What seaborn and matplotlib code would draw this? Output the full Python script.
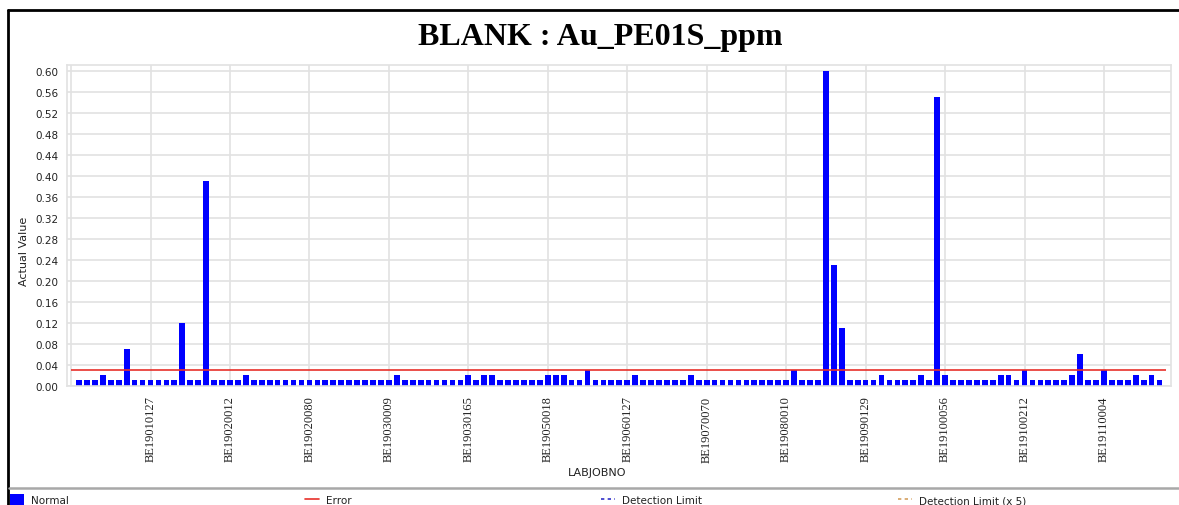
import matplotlib
matplotlib.use("Agg")
import matplotlib.pyplot as plt
from matplotlib.lines import Line2D
from matplotlib.patches import Patch
import seaborn as sns
import pandas as pd

# Au blank results, one bar per sample (ppm)
VALUES = [
    0.01, 0.01, 0.01, 0.02, 0.01, 0.01, 0.07, 0.01, 0.01, 0.01,
    0.01, 0.01, 0.01, 0.12, 0.01, 0.01, 0.39, 0.01, 0.01, 0.01,
    0.01, 0.02, 0.01, 0.01, 0.01, 0.01, 0.01, 0.01, 0.01, 0.01,
    0.01, 0.01, 0.01, 0.01, 0.01, 0.01, 0.01, 0.01, 0.01, 0.01,
    0.02, 0.01, 0.01, 0.01, 0.01, 0.01, 0.01, 0.01, 0.01, 0.02,
    0.01, 0.02, 0.02, 0.01, 0.01, 0.01, 0.01, 0.01, 0.01, 0.02,
    0.02, 0.02, 0.01, 0.01, 0.03, 0.01, 0.01, 0.01, 0.01, 0.01,
    0.02, 0.01, 0.01, 0.01, 0.01, 0.01, 0.01, 0.02, 0.01, 0.01,
    0.01, 0.01, 0.01, 0.01, 0.01, 0.01, 0.01, 0.01, 0.01, 0.01,
    0.03, 0.01, 0.01, 0.01, 0.60, 0.23, 0.11, 0.01, 0.01, 0.01,
    0.01, 0.02, 0.01, 0.01, 0.01, 0.01, 0.02, 0.01, 0.55, 0.02,
    0.01, 0.01, 0.01, 0.01, 0.01, 0.01, 0.02, 0.02, 0.01, 0.03,
    0.01, 0.01, 0.01, 0.01, 0.01, 0.02, 0.06, 0.01, 0.01, 0.03,
    0.01, 0.01, 0.01, 0.02, 0.01, 0.02, 0.01,
]
# labelled job numbers, every 10th sample starting at index 9
TICK_LABELS = [
    "BE19010127", "BE19020012", "BE19020080", "BE19030009", "BE19030165",
    "BE19050018", "BE19060127", "BE19070070", "BE19080010", "BE19090129",
    "BE19100056", "BE19100212", "BE19110004",
]
ERROR_LIMIT = 0.03
LEGEND_LABELS = ["Normal", "Error", "Detection Limit", "Detection Limit (x 5)"]

df = pd.DataFrame({"sample": range(len(VALUES)), "value": VALUES})

sns.set_theme(style="whitegrid")
plt.rcParams["font.family"] = ["DejaVu Sans"]

W, H = 1179, 506
fig = plt.figure(figsize=(W / 100, H / 100), dpi=100)
fig.patch.set_facecolor("white")
ax = fig.add_axes([67 / W, 1 - 386.7 / H, (1170.7 - 67) / W, (386.7 - 65.7) / H])

sns.barplot(data=df, x="sample", y="value", color="#0000FF", saturation=1,
            width=0.72, linewidth=0, ax=ax)

ax.hlines(ERROR_LIMIT, -1, len(VALUES) - 0.2, color="#E8302A", lw=1.2, zorder=3)

tick_pos = [-1] + list(range(9, len(VALUES), 10))
ax.set_xticks(tick_pos)
ax.set_xticklabels([""] + TICK_LABELS, rotation=90, family="Liberation Serif",
                   fontsize=9, color="#222222")
ax.set_xlim(-1.51, 137.4)

yt = [i * 0.04 for i in range(16)]
ax.set_yticks(yt)
ax.set_yticklabels([f"{v:.2f}" for v in yt], fontsize=7.5, color="#222222")
ax.set_ylim(0, 0.6114)

ax.grid(True, axis="both", color="#E2E2E2", lw=1.2)
ax.set_axisbelow(True)
for s in ax.spines.values():
    s.set_color("#E2E2E2")
    s.set_linewidth(1.2)
ax.tick_params(axis="x", length=5, width=1.2, color="#DADADA", pad=2)
ax.tick_params(axis="y", length=4, width=1.2, color="#DADADA", pad=2)

ax.set_xlabel("LABJOBNO", fontsize=8, color="#222222")
ax.set_ylabel("Actual Value", fontsize=8, color="#222222")
ax.xaxis.set_label_coords((597 - 67) / 1103.7, -(468 - 386.7) / 320.7)
ax.yaxis.set_label_coords(-0.034, 1 - (251 - 65.7) / 321)

fig.text(600 / W, 1 - 38 / H, "BLANK : Au_PE01S_ppm", family="Liberation Serif",
         weight="bold", fontsize=23, ha="center", va="center", color="black")

# outer frame and legend separator
fig.add_artist(Line2D([8 / W, 8 / W], [0, 1 - 11 / H], transform=fig.transFigure,
                      color="black", lw=2))
fig.add_artist(Line2D([8 / W, 1], [1 - 11 / H, 1 - 11 / H], transform=fig.transFigure,
                      color="black", lw=2))
fig.add_artist(Line2D([9 / W, 1], [1 - 489 / H, 1 - 489 / H], transform=fig.transFigure,
                      color="#A8A8A8", lw=1.8))

handles = [
    Patch(facecolor="#0000FF", edgecolor="none"),
    Line2D([], [], color="#E8302A", lw=1.2),
    Line2D([], [], color="#3030C8", lw=1.2, ls=(0, (2, 2))),
    Line2D([], [], color="#D4A060", lw=1.2, ls=(0, (2, 2))),
]
x_starts = [10, 305, 601, 898]
for h, lab, x0 in zip(handles, LEGEND_LABELS, x_starts):
    leg = fig.legend([h], [lab], loc="center left", bbox_to_anchor=(x0 / W, 1 - 501 / H),
                     frameon=False, fontsize=7.5, handlelength=1.3, handleheight=1.3,
                     handletextpad=0.7, borderpad=0, borderaxespad=0)
    for t in leg.get_texts():
        t.set_color("#222222")

fig.savefig("out.png", dpi=100, facecolor="white")
